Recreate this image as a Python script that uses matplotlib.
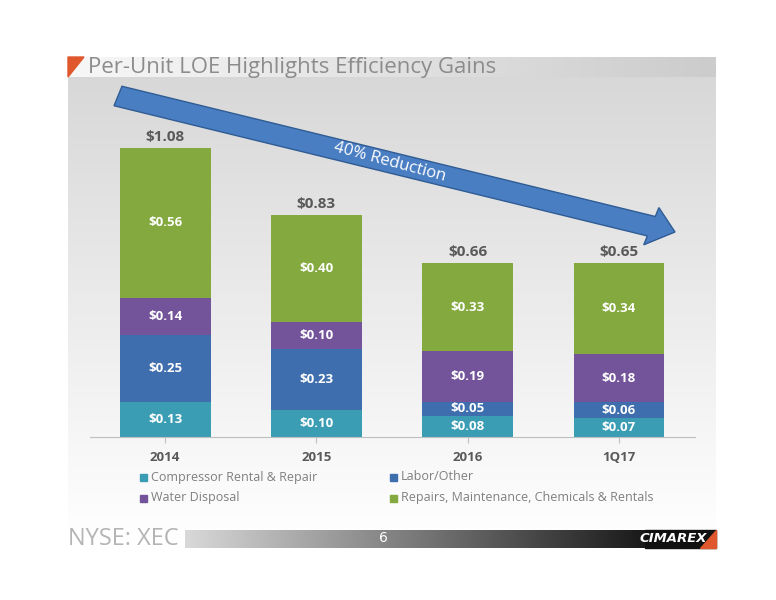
import matplotlib
matplotlib.use("Agg")
import matplotlib.pyplot as plt
import numpy as np
from matplotlib.patches import Rectangle, FancyArrow, Polygon

categories = ["2014", "2015", "2016", "1Q17"]
compressor = [0.13, 0.10, 0.08, 0.07]
labor = [0.25, 0.23, 0.05, 0.06]
water = [0.14, 0.10, 0.19, 0.18]
repairs = [0.56, 0.40, 0.33, 0.34]
totals = ["$1.08", "$0.83", "$0.66", "$0.65"]
series_names = ["Compressor Rental & Repair", "Labor/Other", "Water Disposal",
                "Repairs, Maintenance, Chemicals & Rentals"]
colors = ["#3A9DB4", "#3E6EAE", "#73549A", "#83A93F"]

W, H = 776, 600
fig = plt.figure(figsize=(W/100, H/100), dpi=100)
fig.patch.set_facecolor("white")

def fx(x): return x / W
def fy(y): return 1 - y / H

# background panel gradient
bg = fig.add_axes([fx(68), fy(540), fx(716) - fx(68), fy(57) - fy(540)])
grad = np.linspace(0.84, 1.0, 256).reshape(-1, 1)
bg.imshow(np.dstack([grad]*3), aspect="auto", extent=[0, 1, 0, 1], origin="upper")
bg.axis("off")

# title bar
tb = fig.add_axes([fx(68), fy(77), fx(716) - fx(68), fy(57) - fy(77)])
g2 = np.linspace(0.97, 0.80, 256).reshape(1, -1)
tb.imshow(np.dstack([g2]*3), aspect="auto", extent=[0, 1, 0, 1])
tb.axis("off")
fig.patches.append(Polygon([[fx(68), fy(57)], [fx(84), fy(57)], [fx(68), fy(77)]],
                           closed=True, transform=fig.transFigure, color="#E0562D"))
fig.text(fx(88), fy(67), "Per-Unit LOE Highlights Efficiency Gains", fontsize=16,
         color="#8C8C8C", va="center", ha="left", family="Open Sans")

# footer bar
fb = fig.add_axes([fx(185), fy(548), fx(645) - fx(185), fy(530) - fy(548)])
g3 = np.linspace(0.85, 0.1, 256).reshape(1, -1)
fb.imshow(np.dstack([g3]*3), aspect="auto", extent=[0, 1, 0, 1])
fb.axis("off")
fig.text(fx(68), fy(539), "NYSE: XEC", fontsize=17, color="#B4B4B4", va="center", ha="left",
         family="Open Sans")
fig.text(fx(383), fy(538), "6", fontsize=10, color="white", va="center", ha="center")
fig.patches.append(Rectangle((fx(645), fy(548)), fx(716) - fx(645), fy(530) - fy(548),
                             transform=fig.transFigure, color="#111111"))
fig.patches.append(Polygon([[fx(716), fy(530)], [fx(716), fy(548)], [fx(700), fy(548)]],
                           closed=True, transform=fig.transFigure, color="#E0562D"))
fig.text(fx(673), fy(539), "CIMAREX", fontsize=9.5, color="white", va="center", ha="center",
         weight="bold", style="italic")

# chart
ax = fig.add_axes([fx(89.5), fy(437), fx(694.5) - fx(89.5), fy(116) - fy(437)])
ax.patch.set_alpha(0)
x = np.arange(len(categories))
bottom = np.zeros(len(categories))
for vals, c in zip([compressor, labor, water, repairs], colors):
    ax.bar(x, vals, 0.6, bottom=bottom, color=c, zorder=2)
    for xi, v, b in zip(x, vals, bottom):
        ax.text(xi, b + v/2, f"${v:.2f}", ha="center", va="center", color="white",
                fontsize=9.5, weight="bold", family="Open Sans")
    bottom += np.array(vals)
for xi, t, b in zip(x, totals, bottom):
    ax.text(xi, b + 0.015, t, ha="center", va="bottom", color="#595959", fontsize=11,
            weight="bold", family="Open Sans")
ax.set_xlim(-0.5, 3.5)
ax.set_ylim(0, 1.2)
ax.set_yticks([])
ax.set_xticks(x)
ax.set_xticklabels(categories, fontsize=9.5, weight="bold", color="#595959", family="Open Sans")
ax.tick_params(axis="x", length=4, color="#BFBFBF", pad=6)
for s in ["top", "right", "left"]:
    ax.spines[s].set_visible(False)
ax.spines["bottom"].set_color("#BFBFBF")

# arrow
x0, y0, x1, y1 = fx(118), fy(96), fx(675), fy(232)
arr = FancyArrow(x0, y0, x1 - x0, y1 - y0, width=0.034, head_width=0.065, head_length=0.032,
                 length_includes_head=True, transform=fig.transFigure,
                 facecolor="#4A7EC3", edgecolor="#2F5C94", lw=1)
fig.patches.append(arr)
fig.text(fx(390), fy(162), "40% Reduction", fontsize=12, color="white", rotation=-15,
         ha="center", va="center", family="Open Sans", rotation_mode="anchor")

# legend
leg_pos = [(140, 477), (390, 477), (140, 498), (390, 498)]
for (lx, ly), name, c in zip(leg_pos, series_names, colors):
    fig.patches.append(Rectangle((fx(lx), fy(ly + 3.5)), 7/W, 7/H,
                                 transform=fig.transFigure, color=c))
    fig.text(fx(lx + 11), fy(ly), name, fontsize=9, color="#7F7F7F", va="center",
             ha="left", family="Open Sans")

fig.savefig("out.png", dpi=100)
